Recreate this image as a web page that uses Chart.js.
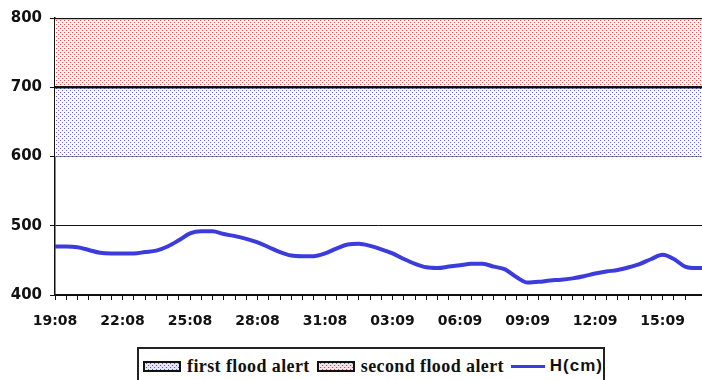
<!DOCTYPE html>
<html><head><meta charset="utf-8">
<script src="https://cdn.jsdelivr.net/npm/chart.js@4"></script>
<style>
body{margin:0;background:#fff;width:702px;height:380px;overflow:hidden;position:relative}
#wrap{position:absolute;left:0;top:0;width:702px;height:340px}
#legend{position:absolute;left:137px;top:347px;width:468px;height:40px;border:2px solid #222;box-sizing:border-box;display:flex;align-items:flex-start;padding-top:7px;padding-left:4px;white-space:nowrap}
.sw{display:block;width:34px;height:7px;border:2px solid #111;margin-right:6px;margin-top:5px}
.lt{font:bold 18px "Liberation Serif",serif;color:#111;margin-right:7px;line-height:20px;letter-spacing:0.4px}
.ln{display:inline-block;width:37px;height:3px;background:#3c3cdc;margin-top:9px;margin-right:5px}
.lh{font:bold 17px "Liberation Sans",Arial,sans-serif;color:#111;line-height:20px;letter-spacing:1px}
</style></head><body>
<div id="wrap"><canvas id="c"></canvas></div>
<div id="legend">
<canvas class="sw" id="sw1" width="34" height="7"></canvas><span class="lt">first flood alert</span>
<canvas class="sw" id="sw2" width="34" height="7"></canvas><span class="lt">second flood alert</span>
<span class="ln"></span><span class="lh">H(cm)</span>
</div>
<script>
const days = ["19:08","20:08","21:08","22:08","23:08","24:08","25:08","26:08","27:08","28:08","29:08","30:08","31:08","01:09","02:09","03:09","04:09","05:09","06:09","07:09","08:09","09:09","10:09","11:09","12:09","13:09","14:09","15:09","16:09","17:09"];
// water level H(cm), every 12 hours from 19:08
const levels = [470,470,469,465,461,460,460,460,462,464,470,479,489,492,492,488,485,481,476,469,462,457,456,456,460,467,473,474,471,466,460,452,445,440,439,441,443,445,445,441,437,426,418,419,421,422,424,427,431,434,436,440,445,452,458,452,441,439,439];
const firstAlert = [600, 700];
const secondAlert = [700, 800];
const yTicks = [400, 500, 600, 700, 800];

function makePattern(bg, color){
  const c = document.createElement('canvas'); c.width = 4; c.height = 4;
  const g = c.getContext('2d');
  g.fillStyle = bg; g.fillRect(0,0,4,4);
  g.fillStyle = color; g.fillRect(0,0,1,1); g.fillRect(2,2,1,1);
  return c;
}
const blueTile = makePattern('#fff', 'rgb(95,95,235)');
const redTile = makePattern('#fff', 'rgb(255,70,70)');
function paintSwatch(id, bg, color){
  const cv = document.getElementById(id); const g = cv.getContext('2d');
  g.fillStyle = bg; g.fillRect(0, 0, cv.width, cv.height);
  g.fillStyle = color;
  for (let y = 0; y < cv.height; y += 2)
    for (let x = (y % 4 === 0 ? 1 : 3); x < cv.width; x += 4) g.fillRect(x, y, 1, 1);
}
paintSwatch('sw1', '#e6e6ff', 'rgb(80,80,240)');
paintSwatch('sw2', '#ffe6e6', 'rgb(255,50,50)');
const ctx = document.getElementById('c').getContext('2d');
const bluePat = ctx.createPattern(blueTile, 'repeat');
const redPat = ctx.createPattern(redTile, 'repeat');

const xMax = 57.5;
const span = [0, levels.length - 1];
new Chart(ctx, {
  type: 'line',
  data: {
    datasets: [
      { label: 'second flood alert', data: span.map(x => ({x, y: secondAlert[1]})), fill: {value: secondAlert[0]}, backgroundColor: redPat, borderColor: '#111', borderWidth: 2.5, pointRadius: 0, order: 3 },
      { label: 'first flood alert', data: span.map(x => ({x, y: firstAlert[1]})), fill: {value: firstAlert[0]}, backgroundColor: bluePat, borderColor: '#111', borderWidth: 2.5, pointRadius: 0, order: 2 },
      { label: 'H(cm)', data: levels.map((v, i) => ({x: i, y: v})), borderColor: '#3c3cdc', borderWidth: 4, pointRadius: 0, fill: false, tension: 0.4, cubicInterpolationMode: 'monotone', order: 1 }
    ]
  },
  options: {
    responsive: true, maintainAspectRatio: false, animation: false,
    layout: { padding: { top: 18, right: 0, left: 0, bottom: 0 } },
    plugins: { legend: { display: false }, tooltip: { enabled: false } },
    scales: {
      x: {
        type: 'linear', min: 0, max: xMax,
        afterBuildTicks: s => { s.ticks = s.ticks.filter(t => Number.isInteger(t.value)); },
        ticks: { stepSize: 1, autoSkip: false, maxRotation: 0, padding: 13, color: '#111', font: { family: 'DejaVu Sans', weight: 'bold', size: 14 },
          callback: v => (v % 6 === 0) ? days[v / 2] : '' },
        grid: { drawOnChartArea: false, tickLength: 5, color: '#111', tickColor: '#111' },
        border: { color: '#111', width: 1.5 },
        afterFit: s => { s.height = 45; }
      },
      y: {
        min: 400, max: 800,
        afterBuildTicks: s => { s.ticks = yTicks.map(v => ({value: v})); },
        ticks: { padding: 8, color: '#111', font: { family: 'DejaVu Sans', weight: 'bold', size: 15 } },
        grid: { color: '#111', lineWidth: 1, tickLength: 5, tickColor: '#111' },
        border: { color: '#111', width: 1.5 },
        afterFit: s => { s.width = 55; }
      }
    }
  }
});
</script>
</body></html>
